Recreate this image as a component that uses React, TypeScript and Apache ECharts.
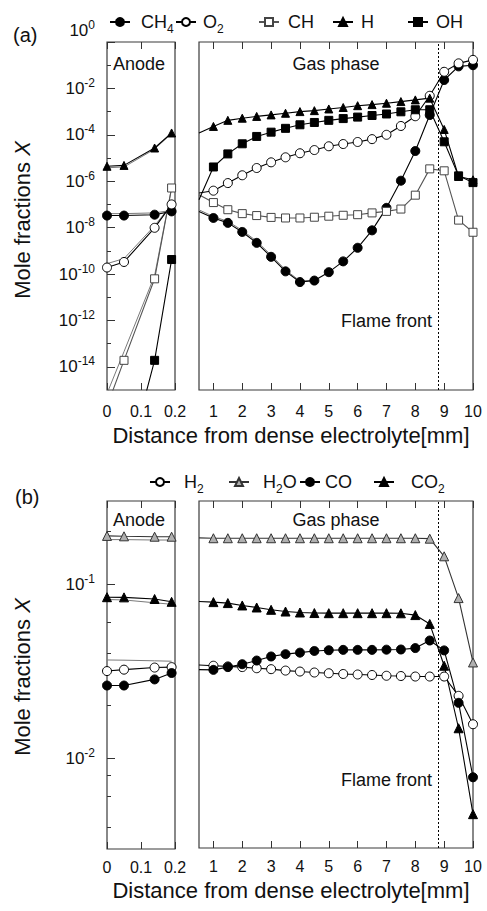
import React, { useEffect, useRef } from 'react';
import * as echarts from 'echarts';

const FONT = '"Liberation Sans", Arial, Helvetica, sans-serif';

// Sampling positions [mm]
const anodeX = [0, 0.05, 0.14, 0.19];
const gasX = [0.5, 1, 1.5, 2, 2.5, 3, 3.5, 4, 4.5, 5, 5.5, 6, 6.5, 7, 7.5, 8, 8.5, 9, 9.5, 10];
const gasNearX = [0.5, 1, 1.5, 2, 2.5, 3, 3.5, 4, 4.5];
const flameFront = 8.8;

// (a) minor species, anode
const ch4Anode = [3.3e-8, 3.3e-8, 3.6e-8, 5.0e-8];
const o2Anode = [1.9e-10, 3.3e-10, 9.8e-9, 1.0e-7];
const chAnode = [2e-16, 1.9e-14, 6.2e-11, 5.1e-7];
const hAnode = [4.4e-6, 4.8e-6, 2.7e-5, 1.2e-4];
const ohAnode = [1e-22, 1.8e-19, 1.9e-14, 4.2e-10];

// (a) second run, unmarked thin lines
const ch4AnodeAlt = [4.0e-8, 4.0e-8, 4.3e-8, 5.5e-8];
const o2AnodeAlt = [2.8e-10, 4.6e-10, 1.2e-8, 1.0e-7];
const chAnodeAlt = [7e-16, 4.5e-14, 8.5e-11, 5.1e-7];
const hAnodeAlt = [3.8e-6, 4.1e-6, 2.4e-5, 1.15e-4];
const ch4GasAlt = [5.8e-8, 3.0e-8, 1.85e-8, 7.6e-9, 2.6e-9, 6.5e-10, 1.5e-10, 5.0e-11, 5.4e-11];

// (a) minor species, gas phase
const ch4Gas = [5.0e-8, 2.6e-8, 1.6e-8, 6.5e-9, 2.2e-9, 5.5e-10, 1.3e-10, 4.5e-11, 5.2e-11, 1.2e-10, 3.5e-10, 1.35e-9, 7.6e-9, 7.1e-8, 1.05e-6, 2.0e-5, 7.1e-4, 2.3e-2, 8.9e-2, 0.1];
const o2Gas = [3.1e-7, 3.9e-7, 8.3e-7, 1.8e-6, 3.7e-6, 6.5e-6, 1.07e-5, 1.6e-5, 2.2e-5, 3.2e-5, 4.0e-5, 4.9e-5, 6.5e-5, 1.0e-4, 2.4e-4, 6.3e-4, 4.8e-3, 5.2e-2, 0.12, 0.17];
const chGas = [2.6e-7, 1.2e-7, 5.9e-8, 4.0e-8, 3.3e-8, 2.75e-8, 2.6e-8, 2.6e-8, 2.8e-8, 3.1e-8, 3.4e-8, 3.6e-8, 4.3e-8, 5.0e-8, 6.3e-8, 2.5e-7, 3.4e-6, 2.8e-6, 2.1e-8, 6.3e-9];
const hGas = [1.2e-4, 2.3e-4, 4.2e-4, 5.2e-4, 6.2e-4, 7.2e-4, 8.5e-4, 1.0e-3, 1.1e-3, 1.3e-3, 1.5e-3, 1.8e-3, 2.0e-3, 2.3e-3, 2.7e-3, 3.2e-3, 3.8e-3, 1.7e-4, 1.6e-6, 1.15e-6];
const ohGas = [1.6e-7, 4.1e-6, 1.5e-5, 4.1e-5, 8.5e-5, 1.3e-4, 1.9e-4, 2.7e-4, 3.4e-4, 4.2e-4, 5.0e-4, 5.8e-4, 6.8e-4, 7.9e-4, 9.8e-4, 1.2e-3, 1.2e-3, 5.0e-5, 1.7e-6, 8.7e-7];

// (b) major species, anode
const h2Anode = [0.0316, 0.0322, 0.0331, 0.0333];
const h2oAnode = [0.189, 0.188, 0.187, 0.187];
const coAnode = [0.0261, 0.0261, 0.0283, 0.0308];
const co2Anode = [0.084, 0.0838, 0.082, 0.079];

// (b) second run, unmarked thin lines
const h2oAnodeAlt = [0.18, 0.18, 0.179, 0.179];
const co2AnodeAlt = [0.0815, 0.081, 0.078, 0.0765];
const h2AnodeAlt = [0.0366, 0.0365, 0.0362, 0.036];

// (b) major species, gas phase
const h2Gas = [0.034, 0.0337, 0.0334, 0.0331, 0.0326, 0.0322, 0.0316, 0.0312, 0.0308, 0.0305, 0.0302, 0.03, 0.0298, 0.0295, 0.0294, 0.0292, 0.0292, 0.0292, 0.0226, 0.0155];
const h2oGas = [0.184, 0.183, 0.183, 0.183, 0.183, 0.183, 0.183, 0.183, 0.183, 0.183, 0.183, 0.183, 0.183, 0.183, 0.183, 0.183, 0.182, 0.144, 0.0827, 0.0352];
const coGas = [0.032, 0.0319, 0.0331, 0.0344, 0.0361, 0.0381, 0.0393, 0.0401, 0.041, 0.0414, 0.0416, 0.0416, 0.0416, 0.0417, 0.0418, 0.0426, 0.0471, 0.0413, 0.0206, 0.00767];
const co2Gas = [0.079, 0.0784, 0.0774, 0.075, 0.073, 0.0708, 0.0692, 0.0683, 0.0678, 0.0677, 0.0677, 0.0677, 0.0677, 0.0677, 0.0676, 0.066, 0.0587, 0.0337, 0.0147, 0.0047];

// Axis ticks
const majorA = [1e-14, 1e-12, 1e-10, 1e-8, 1e-6, 1e-4, 1e-2, 1];
const minorA = [1e-13, 1e-11, 1e-9, 1e-7, 1e-5, 1e-3, 1e-1];
const majorB = [0.01, 0.1];
const minorB = [0.004, 0.006, 0.008, 0.02, 0.04, 0.06, 0.08, 0.2];
const gasTicks = [1, 2, 3, 4, 5, 6, 7, 8, 9, 10];

type Mark = { symbol: string; size: number; fill: string; stroke: string; line: string };
const marks: Record<string, Mark> = {
  CH4: { symbol: 'circle', size: 9, fill: '#000', stroke: '#000', line: '#000' },
  O2: { symbol: 'circle', size: 9, fill: '#fff', stroke: '#000', line: '#000' },
  CH: { symbol: 'rect', size: 8, fill: '#fff', stroke: '#444', line: '#555' },
  H: { symbol: 'triangle', size: 8, fill: '#000', stroke: '#000', line: '#000' },
  OH: { symbol: 'rect', size: 8, fill: '#000', stroke: '#000', line: '#000' },
  H2: { symbol: 'circle', size: 9, fill: '#fff', stroke: '#000', line: '#000' },
  H2O: { symbol: 'triangle', size: 9, fill: '#b0b0b0', stroke: '#333', line: '#333' },
  CO: { symbol: 'circle', size: 9, fill: '#000', stroke: '#000', line: '#000' },
  CO2: { symbol: 'triangle', size: 9, fill: '#000', stroke: '#000', line: '#000' },
};

const AX = '#333';
const TXT = '#111';

function points(xs: number[], ys: number[], hideFirst: boolean) {
  return xs.map((x, i) =>
    hideFirst && i === 0 ? { value: [x, ys[i]], symbol: 'none' } : [x, ys[i]]
  );
}

function lineSeries(name: string, xs: number[], ys: number[], xi: number, yi: number, hideFirst: boolean, extra: any = {}) {
  const m = marks[name];
  return {
    type: 'line',
    name,
    xAxisIndex: xi,
    yAxisIndex: yi,
    data: points(xs, ys, hideFirst),
    symbol: m.symbol,
    symbolSize: m.size,
    showSymbol: true,
    itemStyle: { color: m.fill, borderColor: m.stroke, borderWidth: 1 },
    lineStyle: { color: m.line, width: 1.1 },
    emphasis: { disabled: true },
    clip: true,
    silent: true,
    z: 3,
    ...extra,
  };
}

// thin unmarked companion curve drawn beneath a species
function plainLine(name: string, xs: number[], ys: number[], xi: number, yi: number) {
  return {
    type: 'line',
    name: `${name}-alt`,
    xAxisIndex: xi,
    yAxisIndex: yi,
    data: points(xs, ys, false),
    symbol: 'none',
    lineStyle: { color: '#7a7a7a', width: 1 },
    emphasis: { disabled: true },
    clip: true,
    silent: true,
    z: 2,
  };
}

const flameLine = {
  markLine: {
    silent: true,
    symbol: ['none', 'none'],
    label: { show: false },
    lineStyle: { color: '#000', width: 1, type: [2, 2] },
    data: [{ xAxis: flameFront }],
  },
};

const powLabel = (v: number) => `{b|10}{e|${Math.round(Math.log10(v))}}`;
const powRich = {
  b: { fontSize: 17, fontFamily: FONT, color: TXT },
  e: { fontSize: 12, fontFamily: FONT, color: TXT, padding: [0, 0, 11, 0] },
};

function yAxes(anodeGrid: number, gasGrid: number, min: number, max: number, major: number[], minor: number[], topLabelUp: boolean) {
  const label: any = { customValues: major, formatter: powLabel, rich: powRich, margin: 12 };
  if (topLabelUp) label.verticalAlignMaxLabel = 'bottom';
  return [
    {
      type: 'log', gridIndex: anodeGrid, min, max, position: 'left',
      axisLine: { show: false }, splitLine: { show: false },
      axisTick: { inside: true, length: 8, customValues: major, lineStyle: { color: AX, width: 1 } },
      axisLabel: label,
    },
    {
      type: 'log', gridIndex: anodeGrid, min, max, position: 'left',
      axisLine: { show: false }, splitLine: { show: false },
      axisTick: { inside: true, length: 4, customValues: minor, lineStyle: { color: AX, width: 1 } },
      axisLabel: { show: false },
    },
    { type: 'log', gridIndex: gasGrid, min, max, show: false },
  ];
}

function xAxes(anodeGrid: number, gasGrid: number, labelMargin: number) {
  const tick = { inside: true, length: 7, lineStyle: { color: AX, width: 1 } };
  const label = { fontSize: 16, fontFamily: FONT, color: TXT, margin: labelMargin };
  return [
    {
      type: 'value', gridIndex: anodeGrid, min: 0, max: 0.2, interval: 0.1, position: 'bottom',
      axisLine: { show: false }, splitLine: { show: false }, axisTick: tick,
      axisLabel: { ...label, formatter: (v: number) => String(v) },
    },
    {
      type: 'value', gridIndex: anodeGrid, min: 0, max: 0.2, interval: 0.1, position: 'top',
      axisLine: { show: false }, splitLine: { show: false }, axisTick: tick, axisLabel: { show: false },
    },
    {
      type: 'value', gridIndex: gasGrid, min: 0.5, max: 10, position: 'bottom',
      axisLine: { show: false }, splitLine: { show: false },
      axisTick: { ...tick, customValues: gasTicks },
      axisLabel: { ...label, customValues: gasTicks },
    },
    {
      type: 'value', gridIndex: gasGrid, min: 0.5, max: 10, position: 'top',
      axisLine: { show: false }, splitLine: { show: false },
      axisTick: { ...tick, customValues: gasTicks }, axisLabel: { show: false },
    },
  ];
}

const subRich = {
  n: { fontSize: 18, fontFamily: FONT, color: TXT },
  s: { fontSize: 12, fontFamily: FONT, color: TXT, padding: [14, 0, 0, 0] },
};
const subFormat = (name: string) =>
  name
    .split(/(\d)/)
    .filter((p) => p.length > 0)
    .map((p) => (/\d/.test(p) ? `{s|${p}}` : `{n|${p}}`))
    .join('');

// legend entries: name, icon centre x, text start x, row centre y
const legendItems: [string, number, number, number][] = [
  ['CH4', 114, 135, 22],
  ['O2', 180, 197, 22],
  ['CH', 263, 282, 22],
  ['H', 337, 355, 22],
  ['OH', 412, 430, 22],
  ['H2', 154, 178, 482],
  ['H2O', 233, 257, 482],
  ['CO', 304, 317, 482],
  ['CO2', 378, 405, 482],
];

function buildLegends() {
  return legendItems.map(([name, cx, tx, cy]) => ({
    data: [name],
    left: cx - 10,
    top: cy - 14,
    itemWidth: 20,
    itemHeight: 10,
    selectedMode: false,
    formatter: subFormat,
    textStyle: { fontFamily: FONT, color: TXT, padding: [0, 0, 0, Math.max(0, tx - (cx + 15))], rich: subRich },
  }));
}

function textEl(text: string, x: number, y: number, size: number, align = 'left') {
  return {
    type: 'text', x, y, silent: true,
    style: { text, fontSize: size, fontFamily: FONT, fill: TXT, align, verticalAlign: 'middle' },
  };
}

function yTitle(y: number) {
  return {
    type: 'text', x: 22, y, rotation: Math.PI / 2, silent: true,
    style: {
      text: '{n|Mole fractions }{i|X}',
      align: 'center', verticalAlign: 'middle', fill: TXT,
      rich: {
        n: { fontSize: 22, fontFamily: FONT, fill: TXT },
        i: { fontSize: 22, fontFamily: FONT, fontStyle: 'italic', fill: TXT },
      },
    },
  };
}

function buildOption() {
  const grid = (left: number, top: number, width: number, height: number) => ({
    left, top, width, height, show: true, borderColor: '#3a3a3a', borderWidth: 1.2, backgroundColor: 'transparent',
  });
  return {
    animation: false,
    backgroundColor: '#fff',
    grid: [grid(107, 42, 68, 348), grid(199, 42, 274, 348), grid(107, 501, 68, 348), grid(199, 501, 274, 347)],
    xAxis: [...xAxes(0, 1, 13), ...xAxes(2, 3, 10)],
    yAxis: [...yAxes(0, 1, 1e-15, 1, majorA, minorA, true), ...yAxes(2, 3, 0.003, 0.3, majorB, minorB, false)],
    legend: buildLegends(),
    series: [
      plainLine('CH4', anodeX, ch4AnodeAlt, 0, 0),
      plainLine('O2', anodeX, o2AnodeAlt, 0, 0),
      plainLine('CH', anodeX, chAnodeAlt, 0, 0),
      plainLine('H', anodeX, hAnodeAlt, 0, 0),
      plainLine('CH4', gasNearX, ch4GasAlt, 2, 2),
      lineSeries('CH4', anodeX, ch4Anode, 0, 0, false),
      lineSeries('O2', anodeX, o2Anode, 0, 0, false),
      lineSeries('CH', anodeX, chAnode, 0, 0, false),
      lineSeries('H', anodeX, hAnode, 0, 0, false),
      lineSeries('OH', anodeX, ohAnode, 0, 0, false),
      lineSeries('CH4', gasX, ch4Gas, 2, 2, true, flameLine),
      lineSeries('O2', gasX, o2Gas, 2, 2, true),
      lineSeries('CH', gasX, chGas, 2, 2, true),
      lineSeries('H', gasX, hGas, 2, 2, true),
      lineSeries('OH', gasX, ohGas, 2, 2, true),
      plainLine('H2', anodeX, h2AnodeAlt, 4, 3),
      plainLine('H2O', anodeX, h2oAnodeAlt, 4, 3),
      plainLine('CO2', anodeX, co2AnodeAlt, 4, 3),
      lineSeries('H2', anodeX, h2Anode, 4, 3, false),
      lineSeries('H2O', anodeX, h2oAnode, 4, 3, false),
      lineSeries('CO', anodeX, coAnode, 4, 3, false),
      lineSeries('CO2', anodeX, co2Anode, 4, 3, false),
      lineSeries('H2', gasX, h2Gas, 6, 5, true, flameLine),
      lineSeries('H2O', gasX, h2oGas, 6, 5, true),
      lineSeries('CO', gasX, coGas, 6, 5, true),
      lineSeries('CO2', gasX, co2Gas, 6, 5, true),
    ],
    graphic: [
      textEl('(a)', 13, 35, 20),
      textEl('(b)', 15, 497, 20),
      textEl('Anode', 113, 64, 18),
      textEl('Gas phase', 336, 64, 18, 'center'),
      textEl('Flame front', 432, 321, 18, 'right'),
      textEl('Anode', 113, 520, 18),
      textEl('Gas phase', 336, 520, 18, 'center'),
      textEl('Flame front', 432, 780, 18, 'right'),
      textEl('Distance from dense electrolyte[mm]', 291, 435, 22, 'center'),
      textEl('Distance from dense electrolyte[mm]', 291, 890, 22, 'center'),
      yTitle(220),
      yTitle(677),
    ],
  };
}

export default function App() {
  const ref = useRef<HTMLDivElement>(null);
  useEffect(() => {
    if (!ref.current) return;
    const chart = echarts.init(ref.current, undefined, { renderer: 'svg' });
    chart.setOption(buildOption() as any);
    return () => chart.dispose();
  }, []);
  return (
    <div
      ref={ref}
      style={{ position: 'fixed', left: 0, top: 0, width: 487, height: 911, background: '#fff' }}
    />
  );
}
